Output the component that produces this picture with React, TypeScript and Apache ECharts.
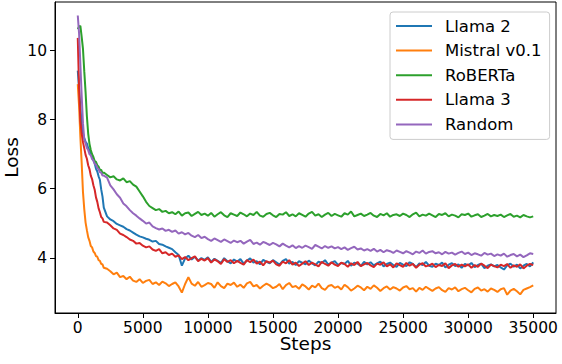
import React, { useEffect, useRef } from "react";
import * as echarts from "echarts";

const seriesNames = ["Llama 2", "Mistral v0.1", "RoBERTa", "Llama 3", "Random"];
const colors = ["#1f77b4", "#ff7f0e", "#2ca02c", "#d62728", "#9467bd"];

const xTicks = [0, 5000, 10000, 15000, 20000, 25000, 30000, 35000];
const yTicks = [4, 6, 8, 10];

const steps = [
  0, 100, 200, 300, 400, 500, 600, 700, 800, 900, 1000, 1100, 1200, 1300, 1400, 1500, 1600, 1700, 1800, 1900, 2000,
  2250, 2500, 2750, 3000, 3250, 3500, 3750, 4000, 4250, 4500,
  4750, 5000, 5250, 5500, 5750, 6000, 6250, 6500, 6750, 7000,
  7250, 7500, 7750, 8000, 8250, 8500, 8750, 9000, 9250, 9500,
  9750, 10000, 10250, 10500, 10750, 11000, 11250, 11500, 11750, 12000,
  12250, 12500, 12750, 13000, 13250, 13500, 13750, 14000, 14250, 14500,
  14750, 15000, 15250, 15500, 15750, 16000, 16250, 16500, 16750, 17000,
  17250, 17500, 17750, 18000, 18250, 18500, 18750, 19000, 19250, 19500,
  19750, 20000, 20250, 20500, 20750, 21000, 21250, 21500, 21750, 22000,
  22250, 22500, 22750, 23000, 23250, 23500, 23750, 24000, 24250, 24500,
  24750, 25000, 25250, 25500, 25750, 26000, 26250, 26500, 26750, 27000,
  27250, 27500, 27750, 28000, 28250, 28500, 28750, 29000, 29250, 29500,
  29750, 30000, 30250, 30500, 30750, 31000, 31250, 31500, 31750, 32000,
  32250, 32500, 32750, 33000, 33250, 33500, 33750, 34000, 34250, 34500,
  34750, 35000,
];

const llama2 = [
  9.42, 8.9, 8.35, 7.9, 7.6, 7.47, 7.36, 7.31, 7.18, 7.12, 6.98, 6.94, 6.82, 6.74, 6.58, 6.5, 6.36, 6.26, 5.98, 5.77, 5.45,
  5.2, 5.11, 5.06, 4.98, 4.94, 4.9, 4.83, 4.79, 4.73, 4.67,
  4.62, 4.59, 4.55, 4.52, 4.47, 4.49, 4.4, 4.38, 4.33, 4.29,
  4.25, 4.16, 4.08, 3.77, 3.98, 4.06, 3.95, 4.03, 3.92, 3.99,
  3.94, 4.01, 3.88, 3.97, 3.91, 3.85, 3.99, 3.9, 3.84, 3.95,
  3.89, 3.96, 3.83, 3.92, 3.98, 3.86, 3.9, 3.81, 3.94, 3.88,
  3.84, 3.93, 3.87, 3.8, 3.91, 3.96, 3.83, 3.88, 3.79, 3.9,
  3.86, 3.81, 3.92, 3.84, 3.78, 3.89, 3.85, 3.93, 3.8, 3.86,
  3.9, 3.79, 3.85, 3.82, 3.91, 3.77, 3.86, 3.83, 3.76, 3.88,
  3.81, 3.87, 3.78, 3.84, 3.89, 3.75, 3.82, 3.86, 3.79, 3.74,
  3.85, 3.8, 3.76, 3.87, 3.82, 3.73, 3.84, 3.79, 3.88, 3.77,
  3.74, 3.83, 3.79, 3.86, 3.72, 3.8, 3.84, 3.76, 3.81, 3.71,
  3.82, 3.78, 3.85, 3.73, 3.79, 3.83, 3.7, 3.77, 3.81, 3.75,
  3.79, 3.72, 3.66, 3.78, 3.83, 3.74, 3.8, 3.69, 3.77, 3.82,
  3.75, 3.87,
];

const mistral = [
  9.03, 8.4, 7.5, 6.75, 5.9, 5.4, 5.02, 4.8, 4.6, 4.49, 4.34, 4.3, 4.18, 4.14, 4.05, 4.03, 3.93, 3.91, 3.82, 3.81, 3.71,
  3.68, 3.61, 3.52, 3.57, 3.44, 3.47, 3.38, 3.45, 3.34, 3.3,
  3.38, 3.27, 3.33, 3.36, 3.24, 3.29, 3.21, 3.31, 3.26, 3.18,
  3.24, 3.29, 3.17, 2.99, 3.24, 3.44, 3.25, 3.19, 3.3, 3.16,
  3.21, 3.27, 3.24, 3.13, 3.29, 3.18, 3.12, 3.25, 3.21, 3.28,
  3.16, 3.22, 3.13, 3.26, 3.3, 3.17, 3.21, 3.11, 3.19, 3.25,
  3.2, 3.12, 3.16, 3.24, 3.09, 3.21, 3.27, 3.15, 3.18, 3.1,
  3.23, 3.17, 3.08, 3.19, 3.14, 3.25, 3.12, 3.07, 3.18, 3.21,
  3.13, 3.17, 3.08, 3.22, 3.15, 3.05, 3.11, 3.19, 3.14, 3.06,
  3.16, 3.1, 3.2, 3.13, 3.04, 3.12, 3.17, 3.08, 3.15, 3.11,
  3.05, 3.14, 3.18, 3.09, 3.12, 3.02, 3.13, 3.07, 3.16, 3.1,
  3.04, 3.11, 3.15, 3.06, 3.01, 3.12, 3.08, 3.14, 3.03, 3.09,
  3.13, 3.06, 3.0, 3.1, 3.14, 3.05, 3.09, 3.02, 3.11, 3.07,
  3.01, 3.09, 3.12, 2.93, 3.05, 3.1, 3.03, 2.94, 3.07, 3.11,
  3.15, 3.2,
];

const roberta = [
  10.62, 10.7, 10.72, 10.4, 10.05, 9.4, 8.8, 8.1, 7.6, 7.3, 7.12, 7.0, 6.92, 6.8, 6.78, 6.68, 6.64, 6.54, 6.55, 6.45, 6.47,
  6.4, 6.33, 6.36, 6.27, 6.24, 6.3, 6.19, 6.22, 6.12, 6.06,
  5.92, 5.78, 5.62, 5.5, 5.44, 5.38, 5.41, 5.33, 5.36, 5.29,
  5.32, 5.26, 5.34, 5.22, 5.29, 5.31, 5.21, 5.27, 5.33, 5.24,
  5.28, 5.22, 5.3, 5.19, 5.26, 5.32, 5.23, 5.18, 5.29, 5.25,
  5.21, 5.31, 5.26, 5.2, 5.28, 5.24, 5.33, 5.22, 5.19, 5.27,
  5.3, 5.23, 5.18, 5.27, 5.25, 5.32, 5.21, 5.26, 5.2, 5.29,
  5.24, 5.19, 5.28, 5.33, 5.22, 5.26, 5.18, 5.25, 5.3, 5.21,
  5.27, 5.23, 5.19, 5.29, 5.25, 5.34, 5.2, 5.24, 5.28, 5.21,
  5.25, 5.3, 5.22, 5.18, 5.27, 5.23, 5.29, 5.19, 5.24, 5.26,
  5.21, 5.28, 5.24, 5.18, 5.26, 5.31, 5.2, 5.25, 5.22, 5.28,
  5.23, 5.18, 5.27, 5.24, 5.29, 5.2, 5.25, 5.22, 5.17, 5.26,
  5.24, 5.28, 5.19, 5.23, 5.26, 5.18, 5.22, 5.27, 5.2, 5.24,
  5.21, 5.25, 5.18, 5.23, 5.27, 5.19, 5.22, 5.17, 5.24, 5.2,
  5.17, 5.2,
];

const llama3 = [
  10.37, 8.9, 7.95, 7.6, 7.35, 7.17, 6.98, 6.87, 6.68, 6.57, 6.38, 6.28, 6.1, 5.97, 5.75, 5.62, 5.43, 5.32, 5.18, 5.14, 5.04,
  5.02, 4.94, 4.85, 4.81, 4.7, 4.66, 4.6, 4.53, 4.49, 4.41,
  4.43, 4.35, 4.3, 4.33, 4.24, 4.2, 4.25, 4.13, 4.16, 4.08,
  4.12, 4.03, 4.07, 3.96, 4.02, 3.93, 3.99, 4.04, 3.9, 3.97,
  3.92, 3.99, 3.86, 3.95, 3.9, 3.82, 3.96, 3.88, 3.93, 3.84,
  3.91, 3.85, 3.8, 3.93, 3.87, 3.95, 3.83, 3.89, 3.78, 3.9,
  3.86, 3.92, 3.81, 3.77, 3.89, 3.84, 3.93, 3.8, 3.86, 3.76,
  3.83, 3.9, 3.79, 3.86, 3.81, 3.75, 3.88, 3.82, 3.77, 3.87,
  3.8, 3.76, 3.86, 3.82, 3.74, 3.84, 3.79, 3.88, 3.76, 3.81,
  3.85, 3.78, 3.73, 3.83, 3.8, 3.87, 3.75, 3.81, 3.72, 3.84,
  3.79, 3.74, 3.85, 3.77, 3.82, 3.71, 3.8, 3.84, 3.75, 3.78,
  3.83, 3.73, 3.79, 3.76, 3.84, 3.7, 3.78, 3.82, 3.74, 3.8,
  3.75, 3.81, 3.71, 3.79, 3.74, 3.83, 3.77, 3.7, 3.8, 3.76,
  3.72, 3.8, 3.76, 3.82, 3.71, 3.78, 3.74, 3.81, 3.69, 3.77,
  3.82, 3.79,
];

const random = [
  11.02, 10.5, 9.6, 8.7, 7.9, 7.42, 7.32, 7.18, 7.12, 7.0, 6.97, 6.86, 6.82, 6.72, 6.7, 6.6, 6.57, 6.48, 6.47, 6.38, 6.38,
  6.32, 6.1, 5.98, 5.84, 5.74, 5.57, 5.49, 5.38, 5.29, 5.22,
  5.14, 5.07, 4.99, 5.02, 4.91, 4.86, 4.82, 4.85, 4.78, 4.81,
  4.75, 4.79, 4.7, 4.74, 4.68, 4.72, 4.64, 4.6, 4.66, 4.57,
  4.61, 4.54, 4.49, 4.56, 4.51, 4.46, 4.53, 4.48, 4.43, 4.5,
  4.45, 4.49, 4.41, 4.47, 4.52, 4.4, 4.44, 4.38, 4.46, 4.42,
  4.37, 4.43, 4.39, 4.33, 4.41, 4.35, 4.3, 4.36, 4.28, 4.34,
  4.29, 4.35, 4.31, 4.26, 4.37, 4.32, 4.27, 4.34, 4.29, 4.33,
  4.27, 4.31, 4.25, 4.3, 4.23, 4.28, 4.32, 4.24, 4.27, 4.21,
  4.25, 4.2, 4.26, 4.18, 4.23, 4.16, 4.22, 4.19, 4.14, 4.21,
  4.17, 4.13, 4.19, 4.15, 4.1, 4.18, 4.14, 4.21, 4.12, 4.17,
  4.19, 4.13, 4.16, 4.1, 4.17, 4.12, 4.15, 4.09, 4.14, 4.18,
  4.11, 4.15, 4.08, 4.13, 4.1, 4.06, 4.14, 4.09, 4.12, 4.05,
  4.1, 4.06, 4.12, 4.03, 4.08, 4.11, 4.04, 4.09, 4.02, 4.07,
  4.13, 4.11,
];

const allValues = [llama2, mistral, roberta, llama3, random];

const FONT = "DejaVu Sans";

export default function App() {
  const ref = useRef<HTMLDivElement>(null);

  useEffect(() => {
    if (!ref.current) return;
    const chart = echarts.init(ref.current, null, { renderer: "svg" });
    const option = {
      animation: false,
      backgroundColor: "#ffffff",
      grid: {
        left: 55,
        right: 6,
        top: 2,
        bottom: 51,
        containLabel: false,
        outerBoundsMode: "none",
        show: true,
        borderColor: "#000",
        borderWidth: 1,
        backgroundColor: "transparent",
      },
      legend: {
        left: 390,
        top: 12,
        orient: "vertical",
        data: seriesNames,
        icon: "rect",
        itemWidth: 36,
        itemHeight: 2,
        itemGap: 6.6,
        padding: [5, 8, 6, 6],
        backgroundColor: "#ffffff",
        borderColor: "#cccccc",
        borderWidth: 1,
        borderRadius: 3,
        textStyle: {
          fontFamily: FONT,
          fontSize: 16.5,
          lineHeight: 18,
          color: "#000",
          padding: [0, 0, 0, 8],
        },
      },
      xAxis: {
        type: "value",
        min: -1750,
        max: 36750,
        name: "Steps",
        nameLocation: "middle",
        nameGap: 21,
        nameMoveOverlap: false,
        nameTextStyle: { fontFamily: FONT, fontSize: 18.5, color: "#000" },
        axisLine: { show: true, onZero: false, lineStyle: { color: "#000", width: 1 } },
        axisTick: {
          show: true,
          inside: false,
          length: 5,
          customValues: xTicks,
          lineStyle: { color: "#000", width: 1 },
        },
        axisLabel: {
          show: true,
          customValues: xTicks,
          margin: 7,
          fontFamily: FONT,
          fontSize: 15.5,
          color: "#000",
          formatter: (v: number) => String(v),
        },
        splitLine: { show: false },
      },
      yAxis: {
        type: "value",
        min: 2.4,
        max: 11.41,
        name: "Loss",
        nameLocation: "middle",
        nameGap: 34,
        nameMoveOverlap: false,
        nameTextStyle: { fontFamily: FONT, fontSize: 18.5, lineHeight: 19, color: "#000" },
        axisLine: { show: true, onZero: false, lineStyle: { color: "#000", width: 1 } },
        axisTick: {
          show: true,
          inside: false,
          length: 5,
          customValues: yTicks,
          lineStyle: { color: "#000", width: 1 },
        },
        axisLabel: {
          show: true,
          customValues: yTicks,
          margin: 8,
          fontFamily: FONT,
          fontSize: 15.5,
          color: "#000",
          formatter: (v: number) => String(v),
        },
        splitLine: { show: false },
      },
      series: seriesNames.map((name, i) => ({
        name,
        type: "line",
        data: steps.map((s, j) => [s, allValues[i][j]]),
        showSymbol: false,
        symbol: "none",
        color: colors[i],
        lineStyle: { color: colors[i], width: 2 },
        clip: true,
      })),
    };
    chart.setOption(option as any);
    return () => {
      chart.dispose();
    };
  }, []);

  return (
    <div
      ref={ref}
      style={{ position: "absolute", left: 0, top: 0, width: 562, height: 364, background: "#fff" }}
    />
  );
}
